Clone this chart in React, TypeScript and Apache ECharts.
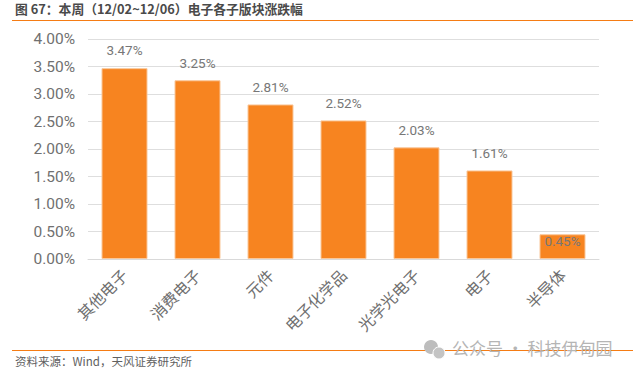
import React, { useEffect, useRef } from "react";
import * as echarts from "echarts";

const categories = ["其他电子", "消费电子", "元件", "电子化学品", "光学光电子", "电子", "半导体"];
const values = [3.47, 3.25, 2.81, 2.52, 2.03, 1.61, 0.45];
const titleText = "图 67：本周（12/02~12/06）电子各子版块涨跌幅";
const sourceText = "资料来源：Wind，天风证券研究所";
const watermarkText = "公众号 · 科技伊甸园";
const FONT = '"Noto Sans CJK SC", "Noto Sans", sans-serif';
const LATIN = 'Roboto, "Noto Sans CJK SC", sans-serif';

export default function App() {
  const ref = useRef<HTMLDivElement>(null);
  useEffect(() => {
    const chart = echarts.init(ref.current!, null, { renderer: "svg" });
    chart.setOption({
      animation: false,
      backgroundColor: "#fff",
      grid: { left: 88, right: 34, top: 39, bottom: 117 },
      xAxis: {
        type: "category",
        data: categories,
        axisLine: { lineStyle: { color: "#d9d9d9", width: 1 } },
        axisTick: { show: false },
        axisLabel: { rotate: 45, color: "#6f6f6f", fontSize: 15.8, fontFamily: FONT, margin: 13, interval: 0 },
      },
      yAxis: {
        type: "value",
        min: 0,
        max: 4,
        interval: 0.5,
        axisLine: { show: false },
        axisTick: { show: false },
        splitLine: { lineStyle: { color: "#dedede", width: 1 } },
        axisLabel: {
          color: "#707070",
          fontSize: 15.5,
          fontFamily: LATIN,
          margin: 13,
          formatter: (v: number) => v.toFixed(2) + "%",
        },
      },
      series: [
        {
          type: "bar",
          barWidth: 46,
          itemStyle: { color: "#f78420", borderColor: "#f9c79a", borderWidth: 1 },
          data: values.map((v, i) => ({
            value: v,
            label:
              i === values.length - 1
                ? { position: "insideTop", distance: 0 }
                : { position: "top", distance: 11 },
          })),
          label: {
            show: true,
            color: "#777777",
            fontSize: 13.5,
            fontFamily: LATIN,
            formatter: (p: any) => p.value.toFixed(2) + "%",
          },
        },
      ],
      graphic: [
        { type: "text", left: 15, top: 2, style: { text: titleText, fill: "#4a4a4a", fontSize: 12.8, fontWeight: "bold", fontFamily: FONT } },
        { type: "line", shape: { x1: 12, y1: 20.5, x2: 633, y2: 20.5 }, style: { stroke: "#f57c14", lineWidth: 1 } },
        { type: "line", shape: { x1: 12, y1: 350.5, x2: 633, y2: 350.5 }, style: { stroke: "#f57c14", lineWidth: 1 } },
        { type: "text", left: 15, top: 355, style: { text: sourceText, fill: "#606060", fontSize: 11.5, fontFamily: FONT } },
        { type: "circle", shape: { cx: 431, cy: 347, r: 7 }, style: { fill: "#bdbdbd" } },
        { type: "circle", shape: { cx: 439, cy: 353, r: 6 }, style: { fill: "#c4c4c4", stroke: "#fff", lineWidth: 1 } },
        { type: "text", left: 452, top: 339, style: { text: watermarkText, fill: "#b5b5b5", fontSize: 17, fontFamily: FONT } },
      ],
    });
    return () => chart.dispose();
  }, []);
  return <div ref={ref} style={{ width: 633, height: 376, position: "absolute", left: 0, top: 0 }} />;
}
